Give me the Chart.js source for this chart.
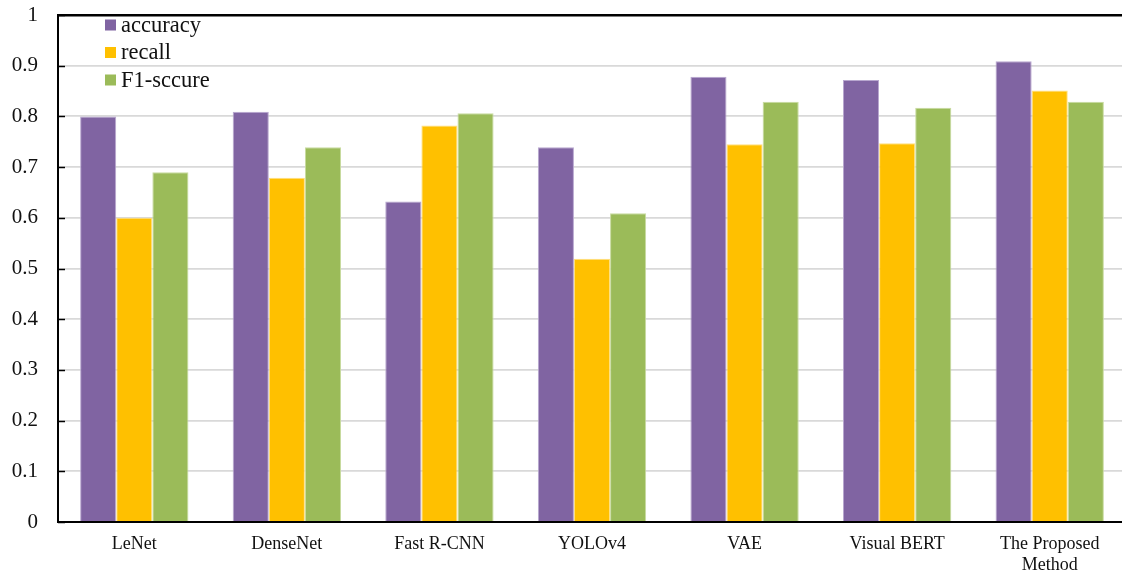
<!DOCTYPE html>
<html>
<head>
<meta charset="utf-8">
<script src="https://cdn.jsdelivr.net/npm/chart.js@4.4.1/dist/chart.umd.min.js"></script>
<style>
  html, body { margin: 0; padding: 0; background: #fff; overflow: hidden; }
  #wrap { position: relative; width: 1126px; height: 574px; }
</style>
</head>
<body>
<div id="wrap"><canvas id="chart"></canvas></div>
<script>
// Model comparison: accuracy, recall and F1 per method
const categories = ['LeNet', 'DenseNet', 'Fast R-CNN', 'YOLOv4', 'VAE', 'Visual BERT', ['The Proposed', 'Method']];
const accuracy = [0.800, 0.809, 0.632, 0.739, 0.878, 0.872, 0.909];
const recall   = [0.600, 0.679, 0.782, 0.519, 0.745, 0.747, 0.851];
const f1Score  = [0.690, 0.739, 0.806, 0.609, 0.829, 0.817, 0.829];
const seriesNames = ['accuracy', 'recall', 'F1-sccure'];
const yTickLabels = ['0', '0.1', '0.2', '0.3', '0.4', '0.5', '0.6', '0.7', '0.8', '0.9', '1'];

const COLORS = ['#8064A2', '#FFC000', '#9BBB59'];
const EDGES  = ['#B8A7CF', '#FFE080', '#C8DBA0'];
const FONT = '"Liberation Serif", "Times New Roman", serif';

// Legend drawn inside the plot area, top-left
const innerLegend = {
  id: 'innerLegend',
  afterDraw(chart) {
    const ctx = chart.ctx;
    const area = chart.chartArea;
    ctx.save();
    ctx.font = '22.5px ' + FONT;
    ctx.textBaseline = 'middle';
    ctx.textAlign = 'left';
    chart.data.datasets.forEach((ds, i) => {
      const cy = area.top + 10 + i * 27.5;
      ctx.fillStyle = ds.backgroundColor;
      ctx.fillRect(area.left + 47, cy - 5.5, 11, 11);
      ctx.fillStyle = '#111';
      ctx.fillText(ds.label, area.left + 63, cy + 1);
    });
    ctx.restore();
  }
};

// Short tick marks pointing into the plot from the value axis
const innerTicks = {
  id: 'innerTicks',
  afterDraw(chart) {
    const y = chart.scales.y;
    const ctx = chart.ctx;
    ctx.save();
    ctx.strokeStyle = '#000';
    ctx.lineWidth = 1.5;
    y.ticks.forEach(t => {
      const py = Math.round(y.getPixelForValue(t.value)) + 0.5;
      ctx.beginPath();
      ctx.moveTo(chart.chartArea.left, py);
      ctx.lineTo(chart.chartArea.left + 7, py);
      ctx.stroke();
    });
    ctx.restore();
  }
};

new Chart(document.getElementById('chart'), {
  type: 'bar',
  data: {
    labels: categories,
    datasets: [accuracy, recall, f1Score].map((vals, i) => ({
      label: seriesNames[i],
      data: vals,
      backgroundColor: COLORS[i],
      borderColor: EDGES[i],
      borderWidth: 1,
      barPercentage: 1.0,
      categoryPercentage: 0.71
    }))
  },
  options: {
    responsive: true,
    maintainAspectRatio: false,
    animation: false,
    layout: { padding: { top: 15, right: 0, bottom: 0, left: 0 } },
    plugins: {
      legend: { display: false },
      tooltip: { enabled: false }
    },
    scales: {
      x: {
        grid: { display: false, drawTicks: false },
        border: { display: true, color: '#000', width: 2 },
        ticks: {
          color: '#111',
          font: { family: FONT, size: 18, lineHeight: 1.2 },
          padding: 11,
          maxRotation: 0,
          autoSkip: false
        },
        afterFit(scale) { scale.height = 52; }
      },
      y: {
        min: 0,
        max: 1,
        grid: {
          drawTicks: false,
          color: c => (c.tick && c.tick.value === 1) ? '#000' : '#d9d9d9',
          lineWidth: c => (c.tick && c.tick.value === 1) ? 2.5 : 1.8
        },
        border: { display: true, color: '#000', width: 2 },
        ticks: {
          stepSize: 0.1,
          color: '#111',
          font: { family: FONT, size: 21 },
          padding: 20,
          callback: (v, i) => yTickLabels[i]
        },
        afterFit(scale) {
          scale.width = 58;
          scale.paddingTop = 0;
          scale.paddingBottom = 0;
        }
      }
    }
  },
  plugins: [innerLegend, innerTicks]
});
</script>
</body>
</html>
